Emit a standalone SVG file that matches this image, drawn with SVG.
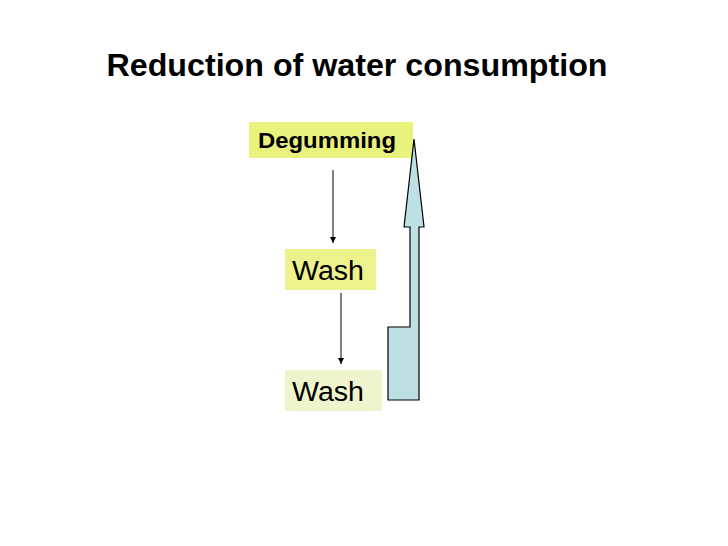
<svg xmlns="http://www.w3.org/2000/svg" width="728" height="546" viewBox="0 0 728 546">
<style>
.t{font-family:"Liberation Sans",Arial,sans-serif;fill:#000}
.c{stroke:#000;stroke-width:1;fill:none}
</style>
<defs>
<marker id="ah" markerWidth="8" markerHeight="8" refX="6" refY="3" orient="auto" markerUnits="userSpaceOnUse">
<path d="M0,0 L6,3 L0,6 z" fill="#000"/>
</marker>
</defs>
<rect width="728" height="546" fill="#fff"/>
<text class="t" x="357" y="76" font-size="31" font-weight="bold" text-anchor="middle" textLength="501" lengthAdjust="spacingAndGlyphs">Reduction of water consumption</text>
<g id="degumming">
<rect x="249" y="122" width="164" height="36" fill="#e9f27a"/>
<text class="t" x="258" y="148" font-size="22" font-weight="bold" textLength="138" lengthAdjust="spacingAndGlyphs">Degumming</text>
</g>
<g id="wash1">
<rect x="285" y="249" width="91" height="41" fill="#eef28c"/>
<text class="t" x="292" y="280" font-size="27" textLength="72" lengthAdjust="spacingAndGlyphs">Wash</text>
</g>
<g id="wash2">
<rect x="285" y="370" width="97" height="41" fill="#eef4cc"/>
<text class="t" x="292" y="401" font-size="27" textLength="72" lengthAdjust="spacingAndGlyphs">Wash</text>
</g>
<g id="bigarrow">
<polygon points="414,139 424,227 419,227 419,400 388,400 388,327 410,327 410,227 404,227" fill="#bde0e4" stroke="#000" stroke-width="1.2"/>
</g>
<g id="connectors">
<line class="c" x1="333" y1="170" x2="333" y2="243" marker-end="url(#ah)"/>
<line class="c" x1="341" y1="293" x2="341" y2="364" marker-end="url(#ah)"/>
</g>
</svg>
